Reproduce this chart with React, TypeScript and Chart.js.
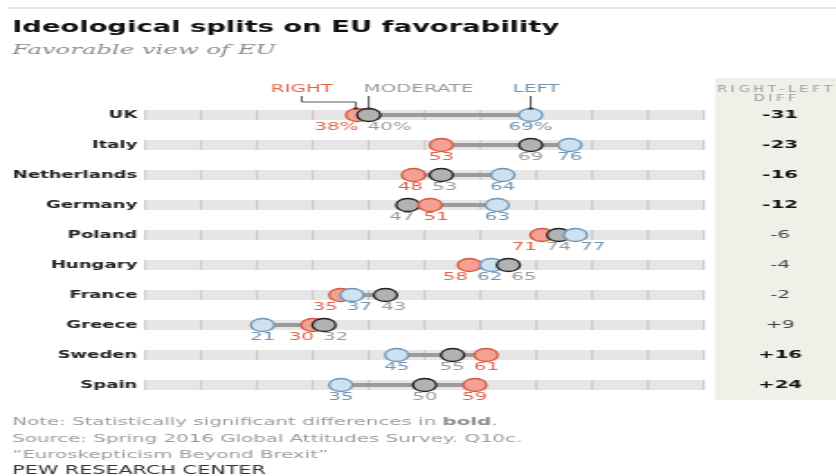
import { useEffect, useRef } from 'react';
import { Chart, registerables } from 'chart.js';

Chart.register(...registerables);

// ---------- data ----------
const countries = ['UK', 'Italy', 'Netherlands', 'Germany', 'Poland', 'Hungary', 'France', 'Greece', 'Sweden', 'Spain'];
const rightValues = [38, 53, 48, 51, 71, 58, 35, 30, 61, 59];
const moderateValues = [40, 69, 53, 47, 74, 65, 43, 32, 55, 50];
const leftValues = [69, 76, 64, 63, 77, 62, 37, 21, 45, 35];
const diffLabels = ['-31', '-23', '-16', '-12', '-6', '-4', '-2', '+9', '+16', '+24'];
const diffSignificant = [true, true, true, true, false, false, false, false, true, true];
const gridTicks = [0, 10, 20, 30, 40, 50, 60, 70, 80, 90, 100];
const seriesKeys = ['right', 'moderate', 'left'] as const;
const seriesNames = ['RIGHT', 'MODERATE', 'LEFT'];

const titleText = 'Ideological splits on EU favorability';
const subtitleText = 'Favorable view of EU';
const diffHeader = ['RIGHT-LEFT', 'DIFF'];
const sourceLines = [
  'Source: Spring 2016 Global Attitudes Survey. Q10c.',
  '\u201cEuroskepticism Beyond Brexit\u201d',
];
const brandText = 'PEW RESEARCH CENTER';

// ---------- styles ----------
const W = 464; // logical canvas width (stretched horizontally to 836px)
const H = 476;
const FONT = '"DejaVu Sans", sans-serif';
const SERIF = '"DejaVu Serif", serif';
const STYLE: Record<string, { fill: string; border: string; text: string }> = {
  right: { fill: '#f2a193', border: '#d9583f', text: '#e0634d' },
  moderate: { fill: '#b2b2b2', border: '#222222', text: '#9a9a9a' },
  left: { fill: '#cfe1ee', border: '#6f97b8', text: '#6f93b3' },
};

const seriesValues: Record<string, number[]> = {
  right: rightValues,
  moderate: moderateValues,
  left: leftValues,
};

type Dot = { x: number; y: string; s: string };

function buildDots(): Dot[] {
  const out: Dot[] = [];
  countries.forEach((c, i) => {
    const row = seriesKeys.map((k) => ({ x: seriesValues[k][i], y: c, s: k }));
    row.sort((a, b) => a.x - b.x);
    out.push(...row);
  });
  return out;
}

function dodge(items: any[], gap: number) {
  const layout = (cl: any) => {
    const total = cl.items.reduce((s: number, it: any) => s + it.w, 0) + gap * (cl.items.length - 1);
    const mean = cl.items.reduce((s: number, it: any) => s + it.desired, 0) / cl.items.length;
    let cur = mean - total / 2;
    cl.items.forEach((it: any) => {
      it.pos = cur + it.w / 2;
      cur += it.w + gap;
    });
    cl.left = mean - total / 2;
    cl.right = mean + total / 2;
  };
  const clusters = items.map((it) => ({ items: [it], left: 0, right: 0 }));
  clusters.forEach(layout);
  let changed = true;
  while (changed) {
    changed = false;
    for (let k = 0; k < clusters.length - 1; k++) {
      if (clusters[k].right + gap > clusters[k + 1].left) {
        clusters[k].items.push(...clusters[k + 1].items);
        clusters.splice(k + 1, 1);
        layout(clusters[k]);
        changed = true;
        break;
      }
    }
  }
}

const pewPlugin = {
  id: 'pewDecor',
  beforeDraw(chart: any) {
    const { ctx } = chart;
    ctx.save();
    // top rule
    ctx.strokeStyle = '#dcdcdc';
    ctx.lineWidth = 1.5;
    ctx.beginPath();
    ctx.moveTo(4.4, 8);
    ctx.lineTo(W, 8);
    ctx.stroke();
    // diff panel
    ctx.fillStyle = '#f0f0e8';
    ctx.fillRect(396.8, 78, W - 396.8, 322);
    ctx.restore();
  },
  beforeDatasetsDraw(chart: any) {
    const { ctx } = chart;
    const x = chart.scales.x;
    const y = chart.scales.y;
    const x0 = x.getPixelForValue(gridTicks[0]);
    const x1 = x.getPixelForValue(gridTicks[gridTicks.length - 1]);
    ctx.save();
    countries.forEach((_c, i) => {
      const yc = y.getPixelForValue(i);
      ctx.fillStyle = '#e6e6e6';
      ctx.fillRect(x0, yc - 5, x1 - x0, 10);
      ctx.strokeStyle = '#c6c6c6';
      ctx.lineWidth = 1;
      gridTicks.forEach((t) => {
        const px = x.getPixelForValue(t);
        ctx.beginPath();
        ctx.moveTo(px, yc - 5);
        ctx.lineTo(px, yc + 5);
        ctx.stroke();
      });
    });
    ctx.restore();
  },
  afterDatasetsDraw(chart: any) {
    const { ctx } = chart;
    const x = chart.scales.x;
    const y = chart.scales.y;
    ctx.save();

    // value labels under dots
    ctx.font = `11px ${FONT}`;
    ctx.textAlign = 'center';
    ctx.textBaseline = 'middle';
    countries.forEach((_c, i) => {
      const yc = y.getPixelForValue(i);
      const items = seriesKeys.map((k) => {
        const v = seriesValues[k][i];
        const text = i === 0 ? `${v}%` : `${v}`;
        return { text, s: k, desired: x.getPixelForValue(v), w: ctx.measureText(text).width, pos: 0 };
      });
      items.sort((a, b) => a.desired - b.desired);
      dodge(items, 5);
      items.forEach((it) => {
        ctx.fillStyle = STYLE[it.s].text;
        ctx.fillText(it.text, it.pos, yc + 12.5);
      });
    });

    // series legend above first row
    const yTop = y.getPixelForValue(0) - 6.5;
    const rPx = x.getPixelForValue(rightValues[0]);
    const mPx = x.getPixelForValue(moderateValues[0]);
    const lPx = x.getPixelForValue(leftValues[0]);
    const labelY = 89;
    ctx.font = `11px ${FONT}`;
    ctx.textBaseline = 'middle';
    const modStart = mPx - 3;
    ctx.textAlign = 'left';
    ctx.fillStyle = STYLE.moderate.text;
    ctx.fillText(seriesNames[1], modStart, labelY);
    ctx.textAlign = 'right';
    ctx.fillStyle = STYLE.right.text;
    const rightEnd = modStart - 17;
    ctx.fillText(seriesNames[0], rightEnd, labelY);
    const rightCenter = rightEnd - ctx.measureText(seriesNames[0]).width / 2;
    ctx.textAlign = 'center';
    ctx.fillStyle = STYLE.left.text;
    ctx.fillText(seriesNames[2], lPx + 3, labelY);

    ctx.strokeStyle = '#555';
    ctx.fillStyle = '#333';
    ctx.lineWidth = 1;
    ctx.beginPath();
    ctx.moveTo(rightCenter, 96);
    ctx.lineTo(rightCenter, 102);
    ctx.lineTo(rPx - 1, 102);
    ctx.lineTo(rPx - 1, yTop);
    ctx.moveTo(mPx, 96);
    ctx.lineTo(mPx, yTop);
    ctx.moveTo(lPx, 96);
    ctx.lineTo(lPx, yTop);
    ctx.stroke();
    [rPx - 1, mPx, lPx].forEach((px) => {
      ctx.beginPath();
      ctx.arc(px, yTop, 1.2, 0, Math.PI * 2);
      ctx.fill();
    });

    // diff column
    ctx.textAlign = 'center';
    ctx.fillStyle = '#9a9a9a';
    ctx.font = `8px ${FONT}`;
    (ctx as any).letterSpacing = '2px';
    ctx.fillText(diffHeader[0], 430 + 1, 90);
    ctx.fillText(diffHeader[1], 430 + 1, 99);
    (ctx as any).letterSpacing = '0px';
    countries.forEach((_c, i) => {
      const yc = y.getPixelForValue(i);
      ctx.font = diffSignificant[i] ? `bold 11px ${FONT}` : `11px ${FONT}`;
      ctx.fillStyle = diffSignificant[i] ? '#111' : '#444';
      ctx.fillText(diffLabels[i], 433, yc);
    });

    // title & subtitle
    ctx.textAlign = 'left';
    ctx.textBaseline = 'alphabetic';
    ctx.fillStyle = '#111';
    ctx.font = `bold 15.2px ${FONT}`;
    ctx.fillText(titleText, 6.7, 32);
    ctx.fillStyle = '#8a8a8a';
    ctx.font = `italic 13.5px ${SERIF}`;
    ctx.fillText(subtitleText, 6.7, 54);

    // footer
    ctx.fillStyle = '#9c9c9c';
    ctx.font = `11px ${FONT}`;
    const noteA = 'Note: Statistically significant differences in ';
    ctx.fillText(noteA, 6.7, 425);
    const wA = ctx.measureText(noteA).width;
    ctx.font = `bold 11px ${FONT}`;
    ctx.fillStyle = '#8a8a8a';
    ctx.fillText('bold', 6.7 + wA, 425);
    const wB = ctx.measureText('bold').width;
    ctx.font = `11px ${FONT}`;
    ctx.fillStyle = '#9c9c9c';
    ctx.fillText('.', 6.7 + wA + wB, 425);
    ctx.fillText(sourceLines[0], 6.7, 442);
    ctx.fillText(sourceLines[1], 6.7, 458);
    ctx.fillStyle = '#333';
    ctx.font = `11.5px ${FONT}`;
    ctx.fillText(brandText, 6.7, 474);

    ctx.restore();
  },
};

export default function App() {
  const ref = useRef<HTMLCanvasElement>(null);
  useEffect(() => {
    const canvas = ref.current;
    if (!canvas) return;
    const lineSets = countries.map((c, i) => {
      const vals = seriesKeys.map((k) => seriesValues[k][i]);
      return {
        type: 'scatter' as const,
        data: [
          { x: Math.min(...vals), y: c },
          { x: Math.max(...vals), y: c },
        ],
        showLine: true,
        borderColor: '#9b9b9b',
        borderWidth: 4,
        pointRadius: 0,
        order: 2,
      };
    });
    const dots = buildDots();
    const chart = new Chart(canvas, {
      type: 'scatter',
      data: {
        datasets: [
          ...lineSets,
          {
            type: 'scatter' as const,
            data: dots as any,
            pointRadius: 6.5,
            pointBorderWidth: 1.3,
            pointBackgroundColor: (ctx: any) => STYLE[ctx.raw?.s ?? 'moderate'].fill,
            pointBorderColor: (ctx: any) => STYLE[ctx.raw?.s ?? 'moderate'].border,
            order: 1,
          } as any,
        ],
      },
      options: {
        animation: false,
        responsive: false,
        devicePixelRatio: 1,
        events: [],
        layout: { padding: { left: 0, right: 73.3, top: 100, bottom: 76 } },
        plugins: { legend: { display: false }, tooltip: { enabled: false } },
        scales: {
          x: { type: 'linear', min: 0, max: 100, display: false },
          y: {
            type: 'category',
            labels: countries,
            offset: true,
            grid: { display: false, drawTicks: false },
            border: { display: false },
            ticks: { font: { family: FONT, size: 10, weight: 'bold' }, color: '#222', padding: 4.4 },
            afterFit: (s: any) => {
              s.width = 80.6;
            },
          },
        },
      },
      plugins: [pewPlugin],
    } as any);
    return () => chart.destroy();
  }, []);
  return (
    <canvas
      ref={ref}
      width={W}
      height={H}
      style={{ position: 'absolute', left: 0, top: 0, width: '836px', height: '476px' }}
    />
  );
}
